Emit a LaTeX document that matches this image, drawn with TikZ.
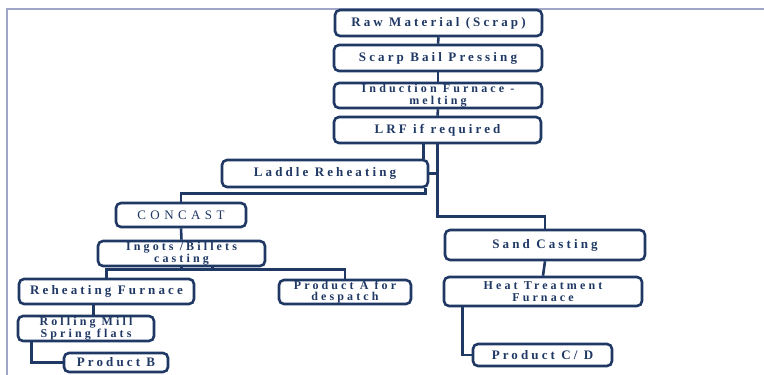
\documentclass[tikz,border=0pt]{standalone}
\usepackage{fontspec}
\newfontfamily\boxfont[LetterSpace=24]{Liberation Serif}
\newfontfamily\pairfont[LetterSpace=26]{Liberation Serif}
\newfontfamily\wideboxfont[LetterSpace=34]{Liberation Serif}
\definecolor{navy}{RGB}{31,56,100}
\definecolor{framegray}{RGB}{160,166,200}

\begin{document}
\begin{tikzpicture}[x=1pt, y=-1pt,
  stage/.style={draw=navy, line width=2.6pt, rounded corners=5pt, fill=white,
    text=navy, align=center, inner sep=0pt,
    font=\boxfont\bfseries\fontsize{13}{12}\selectfont},
  stagepair/.style={stage, font=\pairfont\bfseries\fontsize{12}{11.5}\selectfont},
  link/.style={draw=navy, line width=2.6pt}]

\useasboundingbox (0,0) rectangle (764,375);

% frame
\draw[framegray, line width=1.2pt] (7,375) -- (7,9) -- (764,9);

% melting line
\path (438.5,23) node[stage, minimum width=207, minimum height=26] (raw) {Raw Material (Scrap)};
\path (438,58) node[stage, minimum width=208, minimum height=26] (scarp) {Scarp Bail Pressing};
\path (438,95.5) node[stagepair, minimum width=208, minimum height=25] (induct) {Induction Furnace -\\melting};
\path (437.5,130) node[stage, minimum width=207, minimum height=26] (lrf) {LRF if required};
\path (325,173.5) node[stage, minimum width=206, minimum height=27] (laddle) {Laddle Reheating};

% concast branch
\path (181,215) node[stage, minimum width=130, minimum height=24, font=\wideboxfont\fontsize{13}{12}\selectfont] (concast) {CONCAST};
\path (181.5,253.5) node[stagepair, minimum width=167, minimum height=25] (ingots) {Ingots /Billets\\casting};
\path (106.5,291.5) node[stage, minimum width=175, minimum height=25] (reheat) {Reheating Furnace};
\path (345,292) node[stagepair, minimum width=132, minimum height=24] (proda) {Product A for\\despatch};
\path (86,328.5) node[stagepair, minimum width=136, minimum height=25] (rolling) {Rolling Mill\\Spring flats};
\path (116,362.5) node[stage, minimum width=104, minimum height=19] (prodb) {Product B};

% sand casting branch
\path (545,245) node[stage, minimum width=200, minimum height=30] (sand) {Sand Casting};
\path (543,291.5) node[stagepair, minimum width=198, minimum height=29] (heat) {Heat Treatment\\Furnace};
\path (542.5,355) node[stage, minimum width=139, minimum height=22] (prodcd) {Product C/ D};

% connectors
\draw[link] (raw.south) -- (scarp.north);
\draw[link] (scarp.south) -- (induct.north);
\draw[link] (induct.south) -- (lrf.north);
\draw[link] ([xshift=-6pt]laddle.north east) -- ([xshift=-6pt]laddle.north east |- lrf.south);
\draw[link] (lrf.south) |- ([yshift=12pt]sand.north) -- (sand.north);
\draw[link] (laddle.east) -- (laddle.east -| lrf.south);
\draw[link] ([xshift=-4pt]laddle.south east) |- ([yshift=8pt]concast.north) -- (concast.north);

\draw[link] (concast.south) -- (ingots.north);
\draw[link] (reheat.north) -- ++(0,-8) coordinate (bus) -| (proda.north);
\draw[link] (ingots.south) -- (ingots.south |- bus);
\draw[link] ([xshift=31pt]ingots.south) -- ([xshift=31pt]ingots.south |- bus);
\draw[link] ([xshift=-13pt]reheat.south) -- ([xshift=-13pt]reheat.south |- rolling.north);
\draw[link] ([xshift=15pt]rolling.south west) |- (prodb.west);

\draw[link] (sand.south) -- (heat.north);
\draw[link] ([xshift=20pt]heat.south west) |- (prodcd.west);

\end{tikzpicture}
\end{document}
